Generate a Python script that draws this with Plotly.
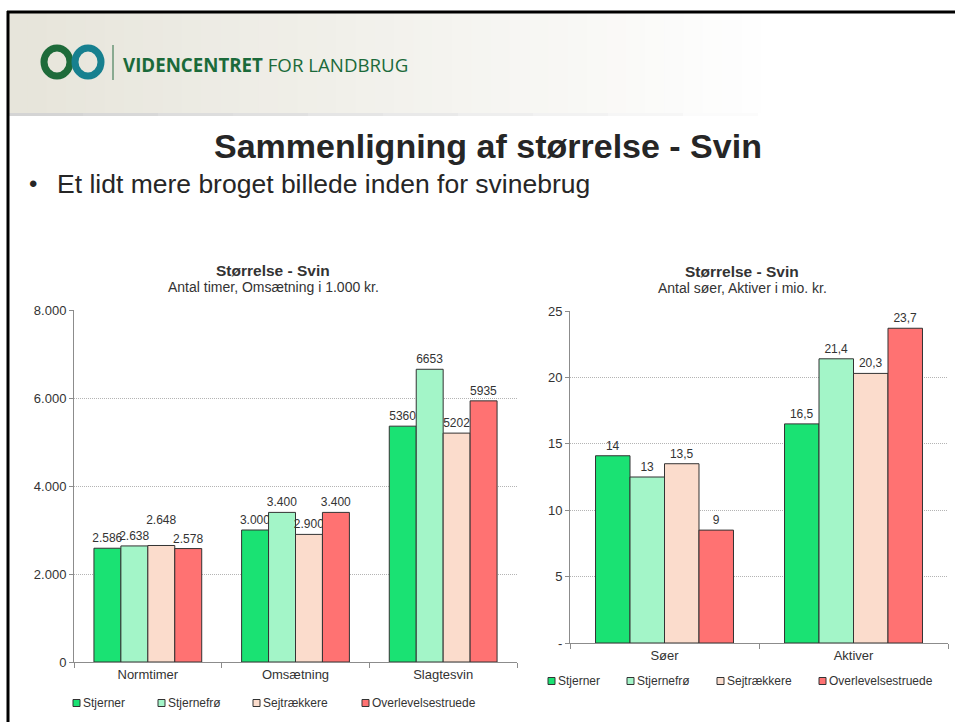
import plotly.graph_objects as go

W, H = 955, 722

# series names and colours
series = ["Stjerner", "Stjernefrø", "Sejtrækkere", "Overlevelsestruede"]
colors = ["#1ae273", "#a3f5c8", "#fbdccc", "#ff7272"]

# left chart: hours, turnover (1.000 kr.), slaughter pigs
left_cats = ["Normtimer", "Omsætning", "Slagtesvin"]
left_stjerner = [2586, 3000, 5360]
left_stjernefro = [2638, 3400, 6653]
left_sejtraekkere = [2648, 2900, 5202]
left_overlevelse = [2578, 3400, 5935]
left_lbl_stjerner = ["2.586", "3.000", "5360"]
left_lbl_stjernefro = ["2.638", "3.400", "6653"]
left_lbl_sejtraekkere = ["2.648<br> ", "2.900", "5202"]
left_lbl_overlevelse = ["2.578", "3.400", "5935"]
left_tickvals = [0, 2000, 4000, 6000, 8000]
left_ticktext = ["0", "2.000", "4.000", "6.000", "8.000"]

# right chart: sows, assets (mio. kr.)
right_cats = ["Søer", "Aktiver"]
right_stjerner = [14.1, 16.5]
right_stjernefro = [12.5, 21.4]
right_sejtraekkere = [13.5, 20.3]
right_overlevelse = [8.5, 23.7]
right_lbl_stjerner = ["14", "16,5"]
right_lbl_stjernefro = ["13", "21,4"]
right_lbl_sejtraekkere = ["13,5", "20,3"]
right_lbl_overlevelse = ["9", "23,7"]
right_tickvals = [0, 5, 10, 15, 20, 25]
right_ticktext = ["-", "5", "10", "15", "20", "25"]

FONT = "Liberation Sans, Arial, sans-serif"
TXT = "#333333"


def px(x):
    return x / W


def py(y):
    return 1 - y / H


fig = go.Figure()

left_vals = [left_stjerner, left_stjernefro, left_sejtraekkere, left_overlevelse]
left_lbls = [left_lbl_stjerner, left_lbl_stjernefro, left_lbl_sejtraekkere, left_lbl_overlevelse]
right_vals = [right_stjerner, right_stjernefro, right_sejtraekkere, right_overlevelse]
right_lbls = [right_lbl_stjerner, right_lbl_stjernefro, right_lbl_sejtraekkere, right_lbl_overlevelse]

for name, col, vals, lbls in zip(series, colors, left_vals, left_lbls):
    fig.add_trace(go.Bar(
        x=left_cats, y=vals, name=name, text=lbls,
        marker=dict(color=col, line=dict(color="#333333", width=1)),
        textposition="outside", constraintext="none", cliponaxis=False,
        textfont=dict(family=FONT, size=12, color=TXT),
        xaxis="x", yaxis="y", showlegend=False, hoverinfo="skip"))

for name, col, vals, lbls in zip(series, colors, right_vals, right_lbls):
    fig.add_trace(go.Bar(
        x=right_cats, y=vals, name=name, text=lbls,
        marker=dict(color=col, line=dict(color="#333333", width=1)),
        textposition="outside", constraintext="none", cliponaxis=False,
        textfont=dict(family=FONT, size=12, color=TXT),
        xaxis="x2", yaxis="y2", showlegend=False, hoverinfo="skip"))

xax = dict(showline=True, linecolor="#8c8c8c", linewidth=1, ticks="outside",
           tickson="boundaries", ticklen=5, tickcolor="#8c8c8c",
           tickfont=dict(family=FONT, size=13, color=TXT), showgrid=False,
           fixedrange=True)
yax = dict(showline=True, linecolor="#8c8c8c", linewidth=1, ticks="outside",
           ticklen=4, tickcolor="#8c8c8c", showgrid=True, gridcolor="#b4b4b4",
           griddash="1px,1px", gridwidth=1, zeroline=False,
           tickfont=dict(family=FONT, size=13, color=TXT), fixedrange=True)

fig.update_layout(
    width=W, height=H, margin=dict(l=0, r=0, t=0, b=0, autoexpand=False),
    paper_bgcolor="white", plot_bgcolor="white",
    barmode="group", bargap=0.27, bargroupgap=0,
    font=dict(family=FONT, color=TXT),
    xaxis=dict(xax, domain=[px(74), px(517)], anchor="y"),
    yaxis=dict(yax, domain=[py(662), py(310)], anchor="x", range=[0, 8000],
               tickvals=left_tickvals, ticktext=left_ticktext),
    xaxis2=dict(xax, domain=[px(570), px(948)], anchor="y2"),
    yaxis2=dict(yax, domain=[py(643), py(311)], anchor="x2", range=[0, 25],
                tickvals=right_tickvals, ticktext=right_ticktext),
)

shapes = []
# header band gradient (beige to white)
n = 40
x_start, x_end = 8, 780
for i in range(n):
    t = i / (n - 1)
    r = int(231 + (255 - 231) * t)
    g = int(229 + (255 - 229) * t)
    b = int(219 + (255 - 219) * t)
    x0 = x_start + (x_end - x_start) * i / n
    x1 = x_start + (x_end - x_start) * (i + 1) / n + 1
    shapes.append(dict(type="rect", xref="paper", yref="paper",
                       x0=px(x0), x1=px(x1), y0=py(113), y1=py(12),
                       fillcolor=f"rgb({r},{g},{b})", line=dict(width=0), layer="below"))
# header bottom shadow, fading to the right
for i in range(10):
    a = 0.45 * (1 - i / 10)
    shapes.append(dict(type="line", xref="paper", yref="paper",
                       x0=px(8 + i * 75), x1=px(8 + (i + 1) * 75), y0=py(114.5), y1=py(114.5),
                       line=dict(color=f"rgba(160,160,160,{a:.2f})", width=3)))
# slide frame
shapes.append(dict(type="line", xref="paper", yref="paper", x0=px(7), x1=1,
                   y0=py(12), y1=py(12), line=dict(color="black", width=3)))
shapes.append(dict(type="line", xref="paper", yref="paper", x0=px(8), x1=px(8),
                   y0=py(11), y1=0, line=dict(color="black", width=3)))
# logo rings
for cx, col in [(57, "#1e6b3a"), (88, "#17808f")]:
    shapes.append(dict(type="circle", xref="paper", yref="paper",
                       x0=px(cx - 13), x1=px(cx + 13), y0=py(62 + 14), y1=py(62 - 14),
                       line=dict(color=col, width=7), fillcolor="rgba(0,0,0,0)"))
shapes.append(dict(type="line", xref="paper", yref="paper", x0=px(113), x1=px(113),
                   y0=py(45), y1=py(80), line=dict(color="#2a6d42", width=1)))


def note(text, x, y, size, family=FONT, color=TXT, anchor="center"):
    return dict(text=text, xref="paper", yref="paper", x=px(x), y=py(y),
                xanchor=anchor, yanchor="middle", showarrow=False,
                font=dict(family=family, size=size, color=color))


annotations = [
    note("<b>VIDENCENTRET</b> FOR LANDBRUG", 121, 64, 18.7,
         family="Open Sans, sans-serif", color="#1b6a3a", anchor="left"),
    note("<b>Sammenligning af størrelse - Svin</b>", 488, 146, 34, color="#262626"),
    note("•", 27, 183, 24, color="#262626", anchor="left"),
    note("Et lidt mere broget billede inden for svinebrug", 55, 184, 26.5,
         color="#262626", anchor="left"),
    note("<b>Størrelse - Svin</b>", 273, 270, 15.5),
    note("Antal timer, Omsætning i 1.000 kr.", 273, 287, 14),
    note("<b>Størrelse - Svin</b>", 742, 271, 15.5),
    note("Antal søer, Aktiver i mio. kr.", 742, 288, 14),
]

# legends below each chart
left_legend_x = [73, 158, 253, 362]
right_legend_x = [548, 627, 717, 819]
for xs, yc in [(left_legend_x, 703), (right_legend_x, 681)]:
    for name, col, x in zip(series, colors, xs):
        shapes.append(dict(type="rect", xref="paper", yref="paper",
                           x0=px(x), x1=px(x + 7), y0=py(yc + 3.5), y1=py(yc - 3.5),
                           fillcolor=col, line=dict(color="#333333", width=1)))
        annotations.append(note(name, x + 8, yc, 12, anchor="left"))

fig.update_layout(shapes=shapes, annotations=annotations)
fig.write_html("out.html", config={"displayModeBar": False},
               post_script="document.body.style.margin = '0';")
